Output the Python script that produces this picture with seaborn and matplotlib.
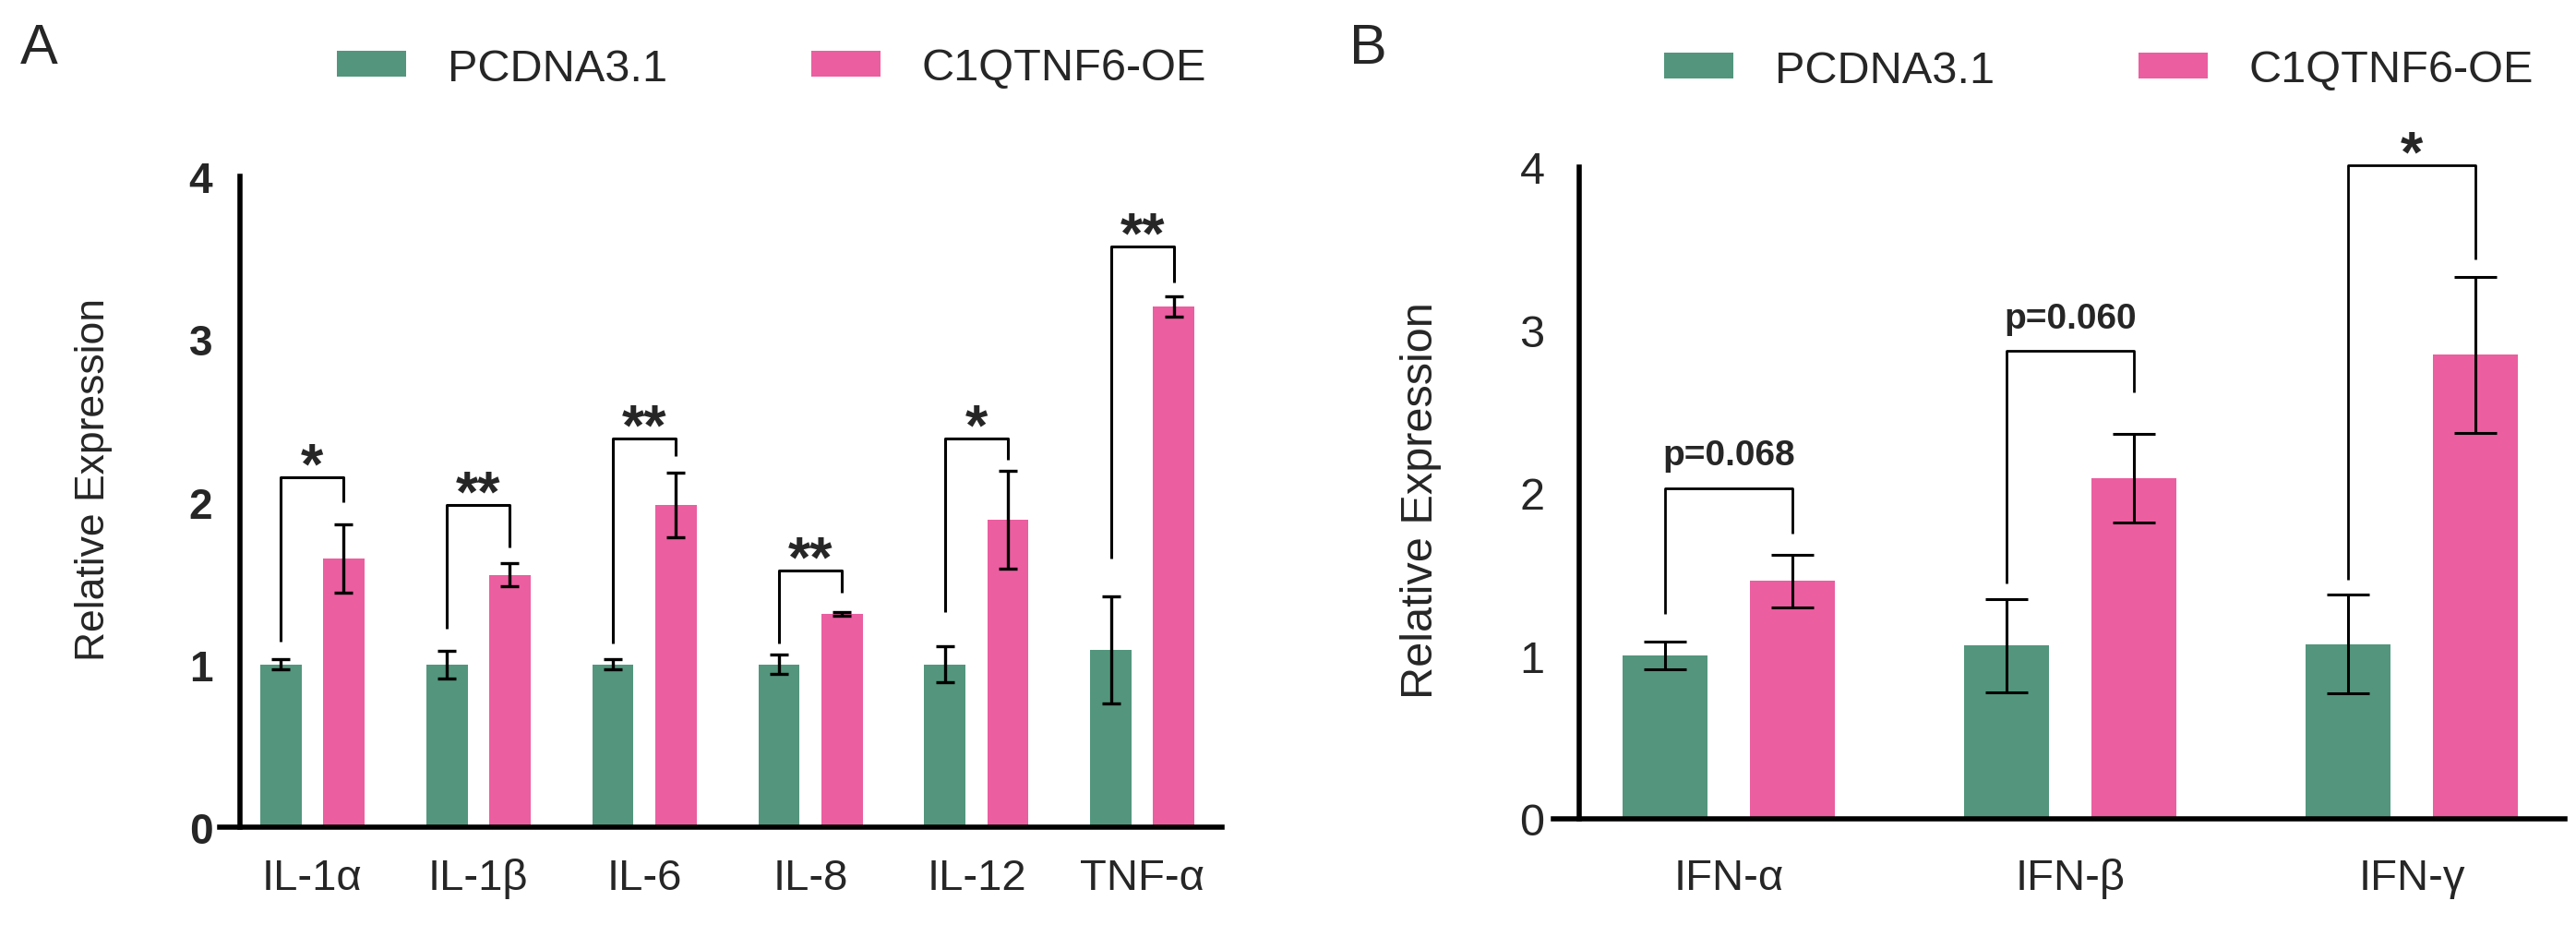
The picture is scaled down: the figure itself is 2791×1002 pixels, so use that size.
import numpy as np
import pandas as pd
import matplotlib
matplotlib.use('Agg')
import matplotlib.pyplot as plt
from matplotlib.patches import Patch
import seaborn as sns

groups = ['PCDNA3.1', 'C1QTNF6-OE']
colors = ['#53967D', '#EB5EA0']

# panel A
cyto_a = ['IL-1α', 'IL-1β', 'IL-6', 'IL-8', 'IL-12', 'TNF-α']
ctrl_a = [1.00, 1.00, 1.00, 1.00, 1.00, 1.09]
ctrl_a_err = [0.03, 0.085, 0.03, 0.06, 0.11, 0.33]
oe_a = [1.65, 1.55, 1.98, 1.31, 1.89, 3.20]
oe_a_err = [0.21, 0.07, 0.20, 0.01, 0.30, 0.065]
sig_a = ['*', '**', '**', '**', '*', '**']
brk_top_a = [2.15, 1.98, 2.39, 1.58, 2.39, 3.57]
brk_lo_a = [1.14, 1.22, 1.13, 1.13, 1.32, 1.65]
brk_hi_a = [2.00, 1.72, 2.28, 1.44, 2.26, 3.35]

# panel B
cyto_b = ['IFN-α', 'IFN-β', 'IFN-γ']
ctrl_b = [1.00, 1.063, 1.073]
ctrl_b_err = [0.085, 0.287, 0.303]
oe_b = [1.46, 2.09, 2.847]
oe_b_err = [0.163, 0.272, 0.48]
sig_b = ['p=0.068', 'p=0.060', '*']
brk_top_b = [2.03, 2.87, 4.01]
brk_lo_b = [1.255, 1.443, 1.467]
brk_hi_b = [1.75, 2.62, 3.435]

sns.set_style('white')
plt.rcParams['font.family'] = ['Liberation Sans', 'DejaVu Sans']

fig = plt.figure(figsize=(27.91, 10.03), dpi=100)
ax_a = fig.add_axes([0.08527, 0.10568, 0.38911, 0.70289])
ax_b = fig.add_axes([0.60301, 0.11466, 0.39269, 0.70389])


def draw_panel(ax, cats, ctrl, ctrl_err, oe, oe_err, width, gap):
    df = pd.DataFrame({
        'cytokine': cats * 2,
        'group': [groups[0]] * len(cats) + [groups[1]] * len(cats),
        'value': ctrl + oe,
    })
    sns.barplot(data=df, x='cytokine', y='value', hue='group', order=cats,
                hue_order=groups, palette=colors, saturation=1, width=width,
                gap=gap, errorbar=None, legend=False, linewidth=0, ax=ax)
    bars = sorted([p for p in ax.patches if p.get_width() > 0],
                  key=lambda p: p.get_x())
    cx = np.array([p.get_x() + p.get_width() / 2 for p in bars])
    means = np.ravel(np.column_stack([ctrl, oe]))
    errs = np.ravel(np.column_stack([ctrl_err, oe_err]))
    return cx, means, errs


def style_axis(ax, xlim, spine_x, ylen, xlen):
    ax.set_xlim(*xlim)
    ax.set_ylim(0, 4)
    ax.set_yticks([0, 1, 2, 3, 4])
    for s in ['top', 'right']:
        ax.spines[s].set_visible(False)
    for s in ['left', 'bottom']:
        ax.spines[s].set_linewidth(4)
        ax.spines[s].set_color('black')
    ax.spines['left'].set_position(('data', spine_x))
    ax.tick_params(axis='y', length=ylen, width=3.5, pad=7, color='black')
    ax.tick_params(axis='x', length=xlen, width=3.5, pad=9, color='black',
                   labelsize=34)
    ax.set_xlabel('')


def brackets(ax, cx, tops, los, his, labels, lw, sizes):
    for i, lab in enumerate(labels):
        x0, x1 = cx[2 * i], cx[2 * i + 1]
        ax.plot([x0, x0, x1, x1], [los[i], tops[i], tops[i], his[i]],
                color='black', lw=lw, clip_on=False, solid_capstyle='butt')
        if lab.startswith('p'):
            ax.annotate(lab, ((x0 + x1) / 2, tops[i]), xytext=(0, 18.5),
                        textcoords='offset points', ha='center',
                        va='baseline', fontsize=sizes[1], fontweight='bold',
                        annotation_clip=False)
        else:
            ax.annotate(lab, ((x0 + x1) / 2, tops[i]), xytext=(0, -4),
                        textcoords='offset points', ha='center',
                        va='baseline', fontsize=sizes[0], fontweight='bold',
                        annotation_clip=False)


# panel A
cx, means, errs = draw_panel(ax_a, cyto_a, ctrl_a, ctrl_a_err, oe_a, oe_a_err,
                             0.756, 0.339)
ax_a.errorbar(cx, means, yerr=errs, fmt='none', ecolor='black',
              elinewidth=2.4, capsize=7.2, capthick=2.4, zorder=3)
style_axis(ax_a, (-0.556, 5.478), -0.433, 14.5, 15)
for t in ax_a.get_yticklabels():
    t.set_fontsize(33)
    t.set_fontweight('bold')
ax_a.set_ylabel('Relative Expression', fontsize=32)
ax_a.yaxis.set_label_coords(-0.1068, 0.536)
brackets(ax_a, cx, brk_top_a, brk_lo_a, brk_hi_a, sig_a, 2.2, (45, 28))

# panel B
cx, means, errs = draw_panel(ax_b, cyto_b, ctrl_b, ctrl_b_err, oe_b, oe_b_err,
                             0.746, 0.332)
ax_b.errorbar(cx, means, yerr=errs, fmt='none', ecolor='black',
              elinewidth=2.2, capsize=16.5, capthick=2.2, zorder=3)
style_axis(ax_b, (-0.5135, 2.449), -0.438, 20, 21)
for t in ax_b.get_yticklabels():
    t.set_fontsize(35)
ax_b.set_ylabel('Relative Expression', fontsize=35)
ax_b.yaxis.set_label_coords(-0.110, 0.49)
brackets(ax_b, cx, brk_top_b, brk_lo_b, brk_hi_b, sig_b, 2.0, (45, 28))

# legends
handles = [Patch(facecolor=c, edgecolor='none') for c in colors]
for ax, anchor in [(ax_a, (365 / 2791, 1 - 75 / 1003)),
                   (ax_b, (1803 / 2791, 1 - 77 / 1003))]:
    ax.legend(handles, groups, loc='center left', bbox_to_anchor=anchor,
              bbox_transform=fig.transFigure, ncol=2, frameon=False,
              fontsize=35, handlelength=1.54, handleheight=0.51,
              handletextpad=0.93, columnspacing=3.2, borderpad=0,
              borderaxespad=0)

fig.text(22 / 2791, 1 - 69 / 1003, 'A', fontsize=44, va='baseline')
fig.text(1462 / 2791, 1 - 69 / 1003, 'B', fontsize=44, va='baseline')

fig.savefig('out.png', dpi=100)
